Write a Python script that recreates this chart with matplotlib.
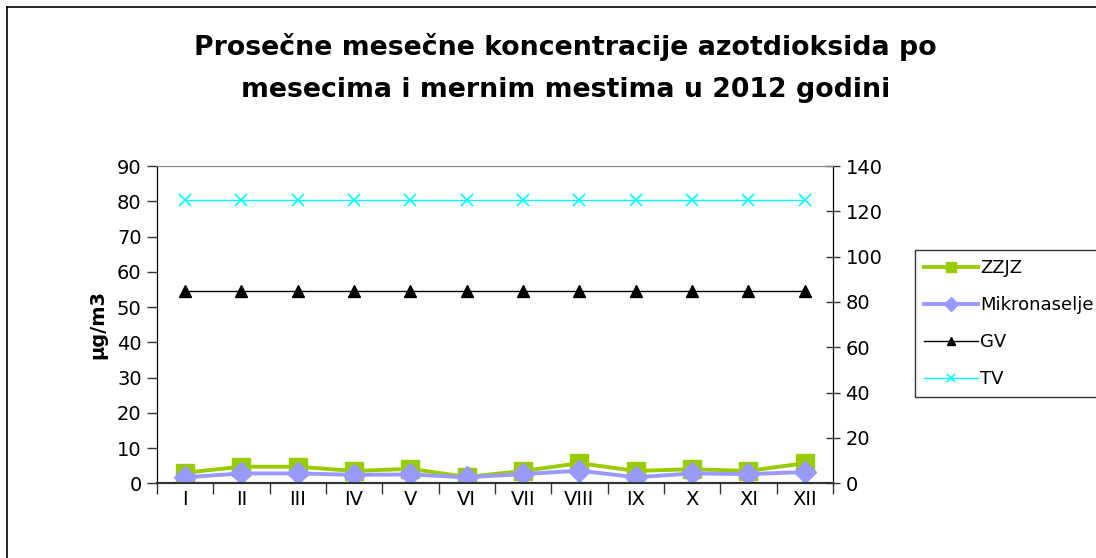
import matplotlib
matplotlib.use("Agg")
import matplotlib.pyplot as plt
from matplotlib.lines import Line2D

plt.rcParams['font.family'] = ['DejaVu Sans']

# data
months = ['I', 'II', 'III', 'IV', 'V', 'VI', 'VII', 'VIII', 'IX', 'X', 'XI', 'XII']
zzjz = [3.0, 4.7, 4.7, 3.5, 4.1, 1.8, 3.5, 5.7, 3.5, 4.0, 3.5, 5.7]
mikronaselje = [1.7, 2.8, 2.8, 2.4, 2.5, 1.7, 2.6, 3.6, 1.7, 2.8, 2.6, 3.2]
gv = [85] * 12   # right axis
tv = [125] * 12  # right axis

fig = plt.figure(figsize=(10.96, 5.58), dpi=100)
ax = fig.add_axes([0.1432, 0.1339, 0.6168, 0.5686])
ax2 = ax.twinx()

x = list(range(len(months)))

ax.plot(x, zzjz, color='#99CC00', lw=2.8, marker='s', ms=12.5,
        mec='#99CC00', label='ZZJZ', zorder=3)
ax.plot(x, mikronaselje, color='#9999FF', lw=2.8, marker='D', ms=11.5,
        mec='#9999FF', label='Mikronaselje', zorder=4)
ax2.plot(x, gv, color='black', lw=1, marker='^', ms=8.5, label='GV')
ax2.plot(x, tv, color='#00FFFF', lw=1, marker='x', ms=9, mew=1.2, label='TV')

ax.set_xlim(-0.5, 11.5)
ax.set_ylim(0, 90)
ax2.set_ylim(0, 140)
ax.set_yticks(range(0, 91, 10))
ax2.set_yticks(range(0, 141, 20))

ax.set_xticks(x)
ax.set_xticklabels(months)
ax.set_xticks([i + 0.5 for i in range(-1, 12)], minor=True)
ax.tick_params(axis='x', which='major', length=0, labelsize=14, pad=5)
ax.tick_params(axis='x', which='minor', length=8, width=1, direction='out', color='#333333')
ax.tick_params(axis='y', length=7, width=1, direction='out', labelsize=14, pad=4, color='#333333')
ax2.tick_params(axis='y', length=10, width=1, direction='inout', labelsize=14, pad=4, color='#333333')

for a in (ax, ax2):
    a.spines['top'].set_color('#888888')
    a.spines['left'].set_color('black')
    a.spines['right'].set_color('black')
    a.spines['bottom'].set_color('#333333')
    a.spines['bottom'].set_linewidth(1.5)

ax.set_ylabel('µg/m3', fontsize=14, fontweight='bold', labelpad=7)

fig.text(0.516, 0.915, 'Prosečne mesečne koncentracije azotdioksida po',
         ha='center', va='center', fontsize=19.3, fontweight='bold')
fig.text(0.516, 0.838, 'mesecima i mernim mestima u 2012 godini',
         ha='center', va='center', fontsize=19.3, fontweight='bold')

# outer chart border (top and left visible)
fig.add_artist(Line2D([0.0064, 0.0064], [0, 0.9875], color='black', lw=1.2,
                      transform=fig.transFigure))
fig.add_artist(Line2D([0.0064, 1.0], [0.9875, 0.9875], color='black', lw=1.2,
                      transform=fig.transFigure))

handles = ax.get_lines()[:2] + ax2.get_lines()
leg = fig.legend(handles=handles, labels=[h.get_label() for h in handles],
                 loc='upper left', bbox_to_anchor=(0.835, 0.552),
                 frameon=True, fancybox=False, edgecolor='black',
                 fontsize=13, handlelength=3.0, handletextpad=0.1,
                 labelspacing=1.05, borderpad=0.5, borderaxespad=0,
                 markerscale=0.6)
leg.get_frame().set_linewidth(1)

fig.savefig('out.png', dpi=100)
